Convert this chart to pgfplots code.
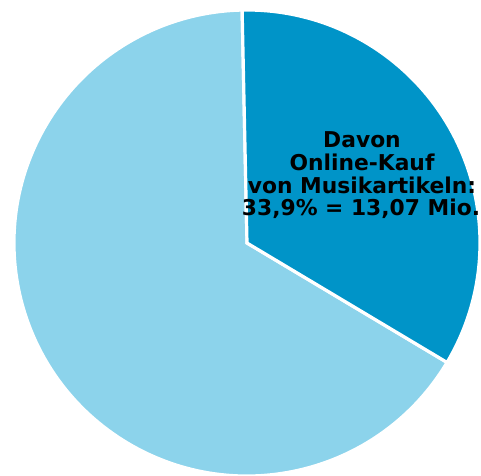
\documentclass[border=0pt]{standalone}
\usepackage{pgfplots}
\pgfplotsset{compat=1.18}
\usepackage{pgfplotstable}
\usepackage{fontspec}
\setmainfont{DejaVu Sans}
\definecolor{darkslice}{RGB}{0,148,200}
\definecolor{lightslice}{RGB}{140,211,235}
% share of online music purchases (percent) and the rest
\pgfplotstableread{
part value
online 33.9
rest 66.1
}\piedata
\pgfplotstablegetelem{0}{value}\of\piedata
\let\onlineshare\pgfplotsretval
\begin{document}
\begin{tikzpicture}
\begin{axis}[
  scale only axis, width=481pt, height=475pt,
  xmin=0, xmax=481, ymin=0, ymax=475,
  hide axis, clip=true,
]
\pgfmathsetmacro{\startang}{91.2}
\pgfmathsetmacro{\endang}{\startang-3.6*\onlineshare}
% light slice (rest)
\fill[lightslice, draw=white, line width=3.2pt]
  (axis cs:247,232) -- ++(\endang:233pt) arc[start angle=\endang, end angle=\startang-360, radius=233pt] -- cycle;
% dark slice (online)
\fill[darkslice, draw=white, line width=3.2pt]
  (axis cs:247,232) -- ++(\startang:233pt) arc[start angle=\startang, end angle=\endang, radius=233pt] -- cycle;
\begin{scope}[every node/.style={anchor=base, font=\bfseries\fontsize{21.8pt}{22.7pt}\selectfont, text=black, inner sep=0pt}]
\node at (axis cs:362,328) {Davon};
\node at (axis cs:362,305) {Online-Kauf};
\node at (axis cs:362,282) {von Musikartikeln:};
\node at (axis cs:361,260) {33,9\% = 13,07 Mio.};
\end{scope}
\end{axis}
\pgfresetboundingbox
\useasboundingbox (current axis.south west) rectangle (current axis.north east);
\end{tikzpicture}
\end{document}
